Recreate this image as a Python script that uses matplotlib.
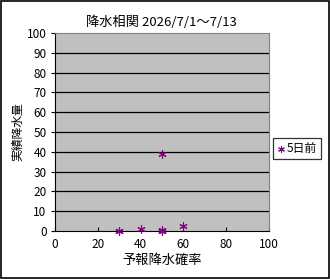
import matplotlib
matplotlib.use("Agg")
import matplotlib.pyplot as plt
from matplotlib.patches import Rectangle

plt.rcParams['font.family'] = ['Noto Sans CJK JP', 'DejaVu Sans']

title = "降水相関 2026/7/1～7/13"
xlabel = "予報降水確率"
ylabel = "実績降水量"
series_name = "5日前"
prob = [30, 30, 40, 50, 50, 50, 60, 50]
rain = [0, 0, 1, 0, 0.5, 0, 2.5, 39]
xticks = [0, 20, 40, 60, 80, 100]
yticks = [0, 10, 20, 30, 40, 50, 60, 70, 80, 90, 100]

fig = plt.figure(figsize=(3.30, 2.79), dpi=100)
fig.patch.set_facecolor('white')
fig.patches.append(Rectangle((0.002, 0.002), 0.995, 0.994, transform=fig.transFigure,
                             fill=False, edgecolor='black', linewidth=1.2))

ax = fig.add_axes([0.1667, 0.172, 0.648, 0.710])
ax.set_facecolor('#C0C0C0')
ax.set_xlim(0, 100)
ax.set_ylim(0, 100)
ax.set_xticks(xticks)
ax.set_yticks(yticks)
for y in yticks[1:-1]:
    ax.axhline(y, color='black', linewidth=0.9, zorder=1)
ax.scatter(prob, rain, marker=(6, 2, 0), s=28, color='#800080', linewidths=0.8,
           zorder=3, clip_on=False, label=series_name)
for side in ['top', 'right']:
    ax.spines[side].set_color('#808080')
for side in ['left', 'bottom']:
    ax.spines[side].set_color('black')
ax.tick_params(axis='x', direction='in', length=3, labelsize=8.5, pad=5)
ax.tick_params(axis='y', direction='out', length=3, labelsize=8.5, pad=3)
ax.set_xlabel(xlabel, fontsize=9.5, labelpad=2)
ax.set_ylabel(ylabel, fontsize=8.5, labelpad=2)
ax.set_title(title, fontsize=9.5, pad=5)

leg = fig.legend(loc='center', bbox_to_anchor=(0.900, 0.467), fontsize=8.5,
                 frameon=True, fancybox=False, edgecolor='black', handlelength=0.6,
                 handletextpad=0.2, borderpad=0.35, markerscale=0.8)
leg.get_frame().set_linewidth(0.9)

fig.savefig('out.png', dpi=100, facecolor='white')
